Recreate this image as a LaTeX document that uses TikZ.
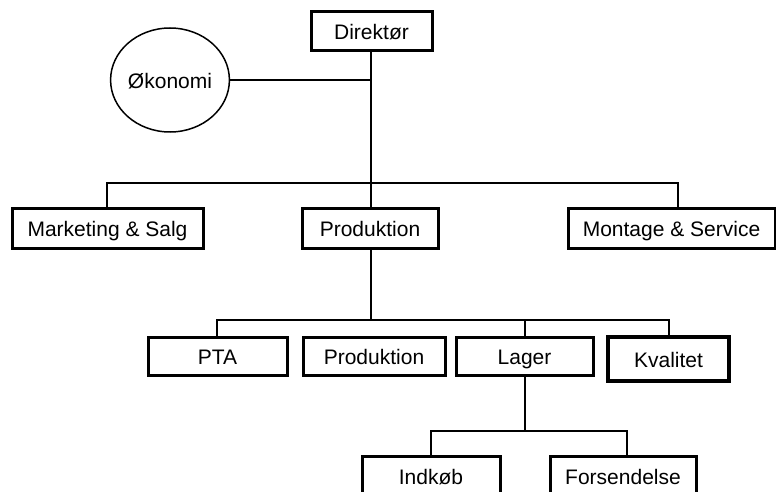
\documentclass[tikz,border=0pt]{standalone}
\usepackage{fontspec}
\setmainfont{Liberation Sans}
\usetikzlibrary{shapes.geometric}
\begin{document}
\begin{tikzpicture}[x=1pt,y=-1pt,
  lbl/.style={font=\fontsize{21}{25}\selectfont,text height=18.5pt,text depth=1.5pt},
  box/.style={lbl,draw,line width=3pt,inner sep=0pt},
  conn/.style={line width=2pt}]
\clip (0,0) rectangle (776,492);
\fill[white] (0,0) rectangle (776,492);
\node[box,minimum width=121pt,minimum height=39pt] (dir) at (371.5,31.5) {Direktør};
\node[lbl,draw,ellipse,line width=1.5pt,minimum width=110pt,minimum height=104pt,inner sep=0pt] (oko) at (170,80) {Økonomi};
\node[box,minimum width=191pt,minimum height=40pt] (mark) at (107.5,228) {Marketing \& Salg};
\node[box,minimum width=136pt,minimum height=40pt] (prod) at (370,228) {Produktion};
\node[box,minimum width=207pt,minimum height=40pt] (mont) at (671.5,228) {Montage \& Service};
\node[box,minimum width=139pt,minimum height=38pt] (pta) at (217.5,356) {PTA};
\node[box,minimum width=142pt,minimum height=38pt] (prod2) at (374,356) {Produktion};
\node[box,minimum width=137pt,minimum height=38pt] (lager) at (524.5,356) {Lager};
\node[box,line width=4pt,minimum width=121pt,minimum height=44pt] (kval) at (668.5,359) {Kvalitet};
\node[box,minimum width=138pt,minimum height=40pt] (ind) at (431,476) {Indkøb};
\node[box,minimum width=146pt,minimum height=40pt] (fors) at (623,476) {Forsendelse};
% bus coordinates
\coordinate (b1) at (371,183);
\coordinate (b1l) at (107,183);
\coordinate (b1r) at (678,183);
\coordinate (ok) at (371,80);
\coordinate (b2) at (371,320);
\coordinate (b2l) at (217,320);
\coordinate (b2m) at (525,320);
\coordinate (b2r) at (669,320);
\coordinate (b3) at (525,431);
\coordinate (b3l) at (431,431);
\coordinate (b3r) at (627,431);
\draw[conn] (dir.south -| b1) -- (prod.north -| b1);
\draw[conn] (oko.east) -- (ok);
\draw[conn] (mark.north -| b1l) -- (b1l) -- (b1r) -- (mont.north -| b1r);
\draw[conn] (prod.south -| b1) -- (b2);
\draw[conn] (pta.north -| b2l) -- (b2l) -- (b2r) -- (kval.north -| b2r);
\draw[conn] (b2m) -- (lager.north -| b2m);
\draw[conn] (lager.south -| b3) -- (b3);
\draw[conn] (ind.north -| b3l) -- (b3l) -- (b3r) -- (fors.north -| b3r);
\end{tikzpicture}
\end{document}
